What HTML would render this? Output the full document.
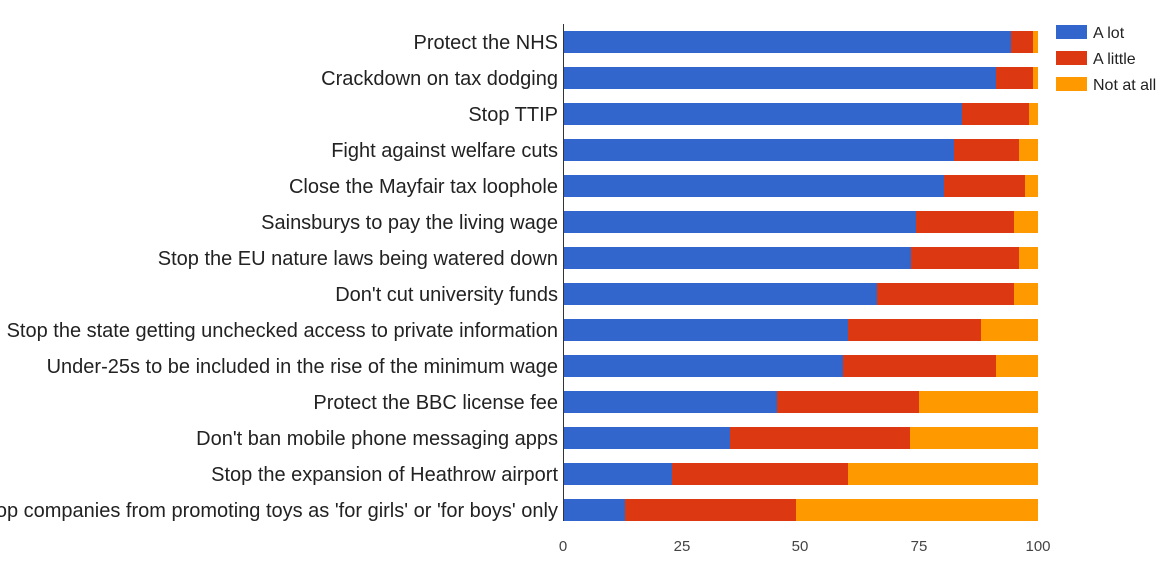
<!DOCTYPE html>
<html><head><meta charset="utf-8"><style>
html,body{margin:0;padding:0;background:#fff;}
svg{display:block;font-family:"Liberation Sans",Arial,sans-serif;}
</style></head><body>
<svg width="1174" height="577" viewBox="0 0 1174 577">
<g font-size="20" fill="#222" text-anchor="end">
<text x="558" y="49">Protect the NHS</text>
<text x="558" y="85">Crackdown on tax dodging</text>
<text x="558" y="121">Stop TTIP</text>
<text x="558" y="157">Fight against welfare cuts</text>
<text x="558" y="193">Close the Mayfair tax loophole</text>
<text x="558" y="229">Sainsburys to pay the living wage</text>
<text x="558" y="265">Stop the EU nature laws being watered down</text>
<text x="558" y="301">Don't cut university funds</text>
<text x="558" y="337">Stop the state getting unchecked access to private information</text>
<text x="558" y="373">Under-25s to be included in the rise of the minimum wage</text>
<text x="558" y="409">Protect the BBC license fee</text>
<text x="558" y="445">Don't ban mobile phone messaging apps</text>
<text x="558" y="481">Stop the expansion of Heathrow airport</text>
<text x="558" y="517">Stop companies from promoting toys as 'for girls' or 'for boys' only</text>
</g>
<g>
<rect x="563" y="31" width="448" height="22" fill="#3366cc"/><rect x="1011" y="31" width="22" height="22" fill="#dc3912"/><rect x="1033" y="31" width="5" height="22" fill="#ff9900"/>
<rect x="563" y="67" width="433" height="22" fill="#3366cc"/><rect x="996" y="67" width="37" height="22" fill="#dc3912"/><rect x="1033" y="67" width="5" height="22" fill="#ff9900"/>
<rect x="563" y="103" width="399" height="22" fill="#3366cc"/><rect x="962" y="103" width="67" height="22" fill="#dc3912"/><rect x="1029" y="103" width="9" height="22" fill="#ff9900"/>
<rect x="563" y="139" width="391" height="22" fill="#3366cc"/><rect x="954" y="139" width="65" height="22" fill="#dc3912"/><rect x="1019" y="139" width="19" height="22" fill="#ff9900"/>
<rect x="563" y="175" width="381" height="22" fill="#3366cc"/><rect x="944" y="175" width="81" height="22" fill="#dc3912"/><rect x="1025" y="175" width="13" height="22" fill="#ff9900"/>
<rect x="563" y="211" width="353" height="22" fill="#3366cc"/><rect x="916" y="211" width="98" height="22" fill="#dc3912"/><rect x="1014" y="211" width="24" height="22" fill="#ff9900"/>
<rect x="563" y="247" width="348" height="22" fill="#3366cc"/><rect x="911" y="247" width="108" height="22" fill="#dc3912"/><rect x="1019" y="247" width="19" height="22" fill="#ff9900"/>
<rect x="563" y="283" width="314" height="22" fill="#3366cc"/><rect x="877" y="283" width="137" height="22" fill="#dc3912"/><rect x="1014" y="283" width="24" height="22" fill="#ff9900"/>
<rect x="563" y="319" width="285" height="22" fill="#3366cc"/><rect x="848" y="319" width="133" height="22" fill="#dc3912"/><rect x="981" y="319" width="57" height="22" fill="#ff9900"/>
<rect x="563" y="355" width="280" height="22" fill="#3366cc"/><rect x="843" y="355" width="153" height="22" fill="#dc3912"/><rect x="996" y="355" width="42" height="22" fill="#ff9900"/>
<rect x="563" y="391" width="214" height="22" fill="#3366cc"/><rect x="777" y="391" width="142" height="22" fill="#dc3912"/><rect x="919" y="391" width="119" height="22" fill="#ff9900"/>
<rect x="563" y="427" width="167" height="22" fill="#3366cc"/><rect x="730" y="427" width="180" height="22" fill="#dc3912"/><rect x="910" y="427" width="128" height="22" fill="#ff9900"/>
<rect x="563" y="463" width="109" height="22" fill="#3366cc"/><rect x="672" y="463" width="176" height="22" fill="#dc3912"/><rect x="848" y="463" width="190" height="22" fill="#ff9900"/>
<rect x="563" y="499" width="62" height="22" fill="#3366cc"/><rect x="625" y="499" width="171" height="22" fill="#dc3912"/><rect x="796" y="499" width="242" height="22" fill="#ff9900"/>
</g>
<line x1="563.5" y1="24" x2="563.5" y2="521" stroke="#333" stroke-width="1"/>
<g font-size="15" fill="#444" text-anchor="middle">
<text x="563" y="551">0</text><text x="682" y="551">25</text><text x="800" y="551">50</text><text x="919" y="551">75</text><text x="1038" y="551">100</text>
</g>
<g font-size="16" fill="#222">
<rect x="1056" y="25" width="31" height="14" fill="#3366cc"/><text x="1093" y="38">A lot</text>
<rect x="1056" y="51" width="31" height="14" fill="#dc3912"/><text x="1093" y="64">A little</text>
<rect x="1056" y="77" width="31" height="14" fill="#ff9900"/><text x="1093" y="90">Not at all</text>
</g>
</svg>
</body></html>
